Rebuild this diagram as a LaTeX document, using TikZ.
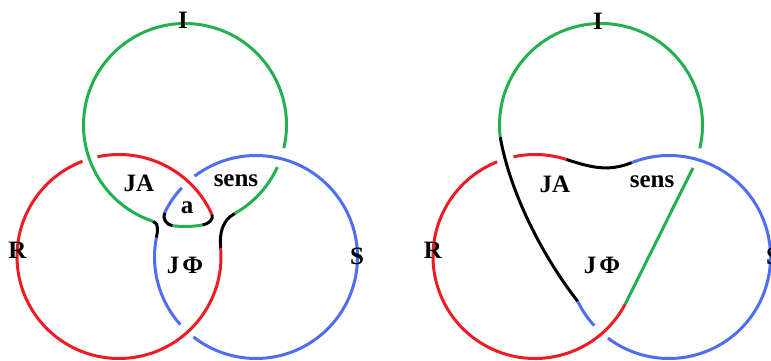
\documentclass[tikz,border=0pt]{standalone}
\usepackage{fontspec}
\setmainfont{Liberation Serif}
\usetikzlibrary{calc}
\definecolor{grn}{RGB}{34,177,76}
\definecolor{rd}{RGB}{237,28,36}
\definecolor{blu}{RGB}{78,110,242}
\begin{document}
\begin{tikzpicture}[x=1pt,y=1pt,
  ln/.style={line width=3pt},
  grnline/.style={ln,draw=grn},
  redline/.style={ln,draw=rd},
  bluline/.style={ln,draw=blu},
  blkline/.style={ln,draw=black},
  lbl/.style={font=\fontsize{25}{30}\selectfont\bfseries,inner sep=0pt,text=black}]
\clip (0,0) rectangle (771,-361);
\def\rG{101.5}
\def\rR{102}
\def\rB{101.5}
% ---------------- left diagram ----------------
\coordinate (G1) at (185,-125);
\coordinate (R1) at (119,-256.5);
\coordinate (B1) at (256,-257);
\coordinate (gl1) at ($(G1)+(251.7:\rG)$);
\coordinate (gr1) at ($(G1)+(-60.7:\rG)$);
\coordinate (gb1) at ($(G1)+(-97.2:\rG)$);
\coordinate (gc1) at ($(G1)+(-80:\rG)$);
\coordinate (rm1) at ($(R1)+(4.9:\rR)$);
\coordinate (rt1) at ($(R1)+(24.3:\rR)$);
\coordinate (bl1) at ($(B1)+(169:\rB)$);
\coordinate (bi1) at ($(B1)+(154.2:\rB)$);
% green
\draw[grnline] (G1) ++(-13.2:\rG) arc[start angle=-13.2,end angle=251.7,radius=\rG];
\draw[grnline] (G1) ++(-24.5:\rG) arc[start angle=-24.5,end angle=-60.7,radius=\rG];
\draw[grnline] (gb1) arc[start angle=-97.2,end angle=-80,radius=\rG];
% red
\draw[redline] (rm1) arc[start angle=4.9,end angle=-249,radius=\rR];
\draw[redline] (R1) ++(102.2:\rR) arc[start angle=102.2,end angle=24.3,radius=\rR];
% blue
\draw[bluline] (B1) ++(127.3:\rB) arc[start angle=127.3,end angle=-128,radius=\rB];
\draw[bluline] (B1) ++(221.8:\rB) arc[start angle=221.8,end angle=169,radius=\rB];
\draw[bluline] (bi1) arc[start angle=154.2,end angle=137,radius=\rB];
% black joins
\draw[blkline] (gl1) to[out=341.7,in=79] (bl1);
\draw[blkline] (gb1) to[out=172.8,in=244.2] (bi1);
\draw[blkline] (gc1) to[out=10,in=-65.7] (rt1);
\draw[blkline] (gr1) to[out=-150.7,in=94.9] (rm1);
% labels
\node[lbl] (I1) at (183,-20) {I};
\node[lbl] (JA1) at (139,-183) {JA};
\node[lbl] (sens1) at (236,-181) {sens};
\node[lbl] (a1) at (187,-208) {a};
\node[lbl] (R1l) at (17.5,-250) {R};
\node[lbl] (JF1) at (185,-265.5) {J\kern0.12em Φ};
\node[lbl] (S1) at (357,-256) {S};
% ---------------- right diagram ----------------
\coordinate (G2) at (601,-125);
\coordinate (R2) at (535,-256.5);
\coordinate (B2) at (669,-257);
\coordinate (gl2) at ($(G2)+(186.9:\rG)$);
\coordinate (gs2) at ($(G2)+(-25:\rG)$);
\coordinate (rm2) at ($(R2)+(-27.8:\rR)$);
\coordinate (rt2) at ($(R2)+(72:\rR)$);
\coordinate (bm2) at ($(B2)+(111.7:\rB)$);
\coordinate (bs2) at ($(B2)+(205.8:\rB)$);
% green
\draw[grnline] (G2) ++(-13.3:\rG) arc[start angle=-13.3,end angle=186.9,radius=\rG];
\draw[grnline] (gs2) -- (rm2);
% red
\draw[redline] (rm2) arc[start angle=-27.8,end angle=-248.2,radius=\rR];
\draw[redline] (R2) ++(102.2:\rR) arc[start angle=102.2,end angle=72,radius=\rR];
% blue
\draw[bluline] (bm2) arc[start angle=111.7,end angle=-127,radius=\rB];
\draw[bluline] (B2) ++(222.6:\rB) arc[start angle=222.6,end angle=205.8,radius=\rB];
% black joins
\draw[blkline] (gl2) to[out=280,in=128,looseness=0.8] (bs2);
\draw[blkline] (rt2) to[out=-18,in=201.7] (bm2);
% labels
\node[lbl] (I2) at (598,-21) {I};
\node[lbl] (JA2) at (555,-184) {JA};
\node[lbl] (sens2) at (652,-182) {sens};
\node[lbl] (R2l) at (433,-250) {R};
\node[lbl] (JF2) at (602,-265) {J\kern0.12em Φ};
\node[lbl] (S2) at (773,-256) {S};
\end{tikzpicture}
\end{document}
